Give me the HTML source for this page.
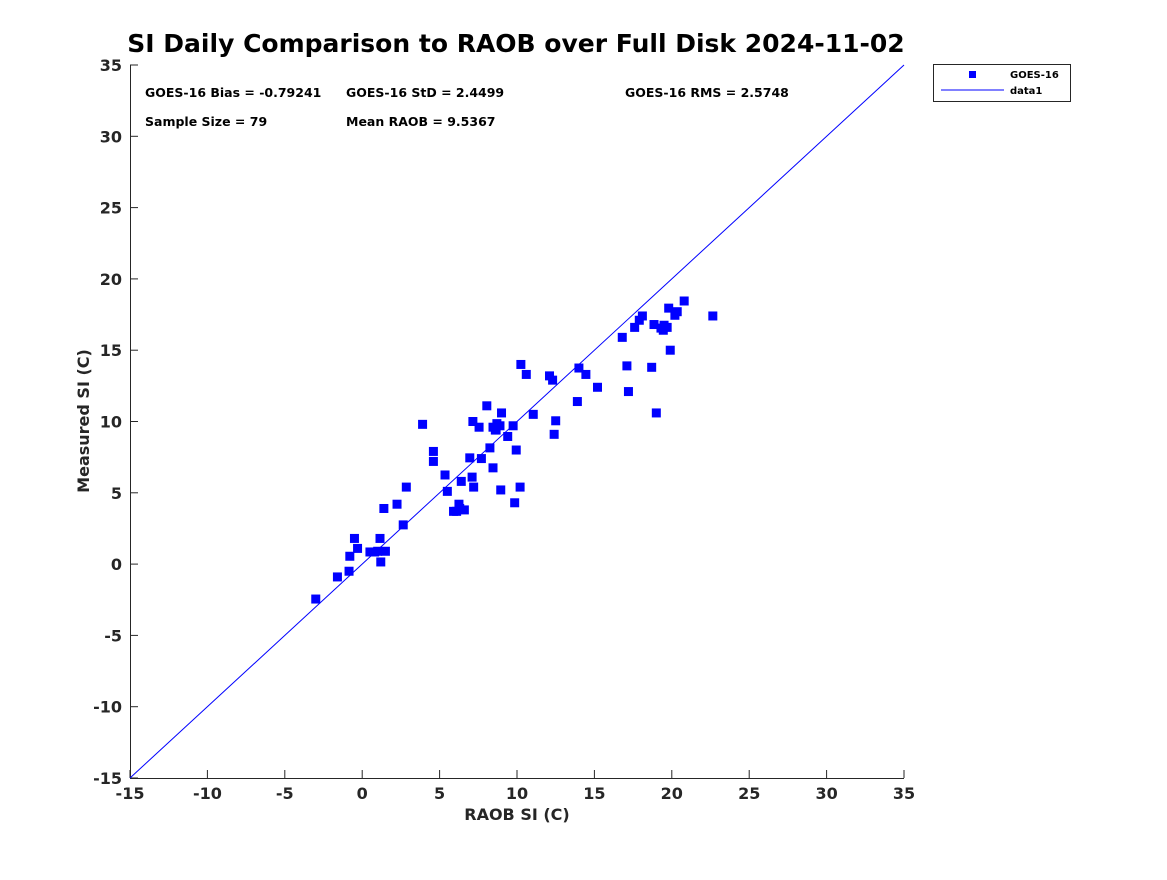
<!DOCTYPE html>
<html><head><meta charset="utf-8"><style>
body{margin:0;background:#fff;}
svg text{font-family:"DejaVu Sans","Liberation Sans",sans-serif;font-weight:bold;fill:#262626;}
</style></head><body>
<svg id="chart" width="1167" height="875" xmlns="http://www.w3.org/2000/svg">
<rect width="1167" height="875" fill="#fff"/>
<text x="516" y="52" text-anchor="middle" style="font-size:25px;fill:#000">SI Daily Comparison to RAOB over Full Disk 2024-11-02</text>
<g id="axes"></g>
<g id="marks"></g>
<text x="145" y="97" style="font-size:12.5px;fill:#000">GOES-16 Bias = -0.79241</text>
<text x="346" y="97" style="font-size:12.5px;fill:#000">GOES-16 StD = 2.4499</text>
<text x="625" y="97" style="font-size:12.5px;fill:#000">GOES-16 RMS = 2.5748</text>
<text x="145" y="126" style="font-size:12.5px;fill:#000">Sample Size = 79</text>
<text x="346" y="126" style="font-size:12.5px;fill:#000">Mean RAOB = 9.5367</text>
<text x="517" y="820" text-anchor="middle" style="font-size:16px">RAOB SI (C)</text>
<text transform="translate(89,421) rotate(-90)" text-anchor="middle" style="font-size:16px">Measured SI (C)</text>
<g>
<rect x="933.5" y="64.5" width="137" height="37" fill="#fff" stroke="#262626" stroke-width="1"/>
<rect x="969" y="71" width="7" height="7" fill="#0000ff"/>
<text x="1010" y="78" style="font-size:10px;fill:#000">GOES-16</text>
<line x1="941" y1="90" x2="1004" y2="90" stroke="#0000ff" stroke-width="1"/>
<text x="1010" y="94" style="font-size:10px;fill:#000">data1</text>
</g>
</svg>
<script>
const xTicks=[-15,-10,-5,0,5,10,15,20,25,30,35];
const yTicks=[-15,-10,-5,0,5,10,15,20,25,30,35];
const raobSI=[-3.0,-1.6,-0.85,-0.8,-0.5,-0.3,0.5,0.8,1.15,1.2,1.5,1.4,2.25,2.65,2.85,3.9,4.6,4.6,5.35,5.5,5.9,6.25,6.1,6.6,6.4,6.95,7.15,7.1,7.2,7.55,7.7,8.05,8.25,8.45,8.45,8.7,8.65,8.9,9.0,8.95,9.4,9.75,9.85,9.95,10.2,10.25,10.6,11.05,12.1,12.3,12.4,12.5,14.0,13.9,14.45,15.2,16.8,17.1,17.2,17.6,17.9,18.1,18.7,18.85,19.0,19.3,19.5,19.7,19.45,19.8,19.9,20.2,20.35,20.8,22.65,1.0,6.3,8.6];
const measuredSI=[-2.45,-0.9,-0.5,0.55,1.8,1.1,0.85,0.85,1.8,0.15,0.9,3.9,4.2,2.75,5.4,9.8,7.9,7.2,6.25,5.1,3.7,4.2,3.7,3.8,5.8,7.45,10.0,6.1,5.4,9.6,7.4,11.1,8.15,9.6,6.75,9.85,9.4,9.7,10.6,5.2,8.95,9.7,4.3,8.0,5.4,14.0,13.3,10.5,13.2,12.9,9.1,10.05,13.75,11.4,13.3,12.4,15.9,13.9,12.1,16.6,17.1,17.4,13.8,16.8,10.6,16.55,16.75,16.6,16.4,17.95,15.0,17.45,17.7,18.45,17.4,0.9,3.9,9.4];
const X0=130,X1=904,Y0=778,Y1=65;
const sx=v=>X0+(v-(-15))/50*(X1-X0);
const sy=v=>Y0-(v-(-15))/50*(Y0-Y1);
const NS="http://www.w3.org/2000/svg";
const ax=document.getElementById('axes'),mk=document.getElementById('marks');
function mkEl(t,a,p){const e=document.createElementNS(NS,t);for(const k in a)e.setAttribute(k,a[k]);p.appendChild(e);return e;}
let l=mkEl('line',{x1:X0,y1:Y0+0.5,x2:X1,y2:Y0+0.5,stroke:'#262626'},ax);


l=mkEl('line',{x1:X0+0.5,y1:Y1,x2:X0+0.5,y2:Y0,stroke:'#262626'},ax);


xTicks.forEach(v=>{
 mkEl('line',{x1:sx(v),y1:Y0,x2:sx(v),y2:Y0-8,stroke:'#262626'},ax);
 const t=mkEl('text',{x:sx(v),y:Y0+21,'text-anchor':'middle',style:'font-size:16px'},ax);
 t.textContent=v;
 
 
});
yTicks.forEach(v=>{
 mkEl('line',{x1:X0,y1:sy(v),x2:X0+8,y2:sy(v),stroke:'#262626'},ax);
 const t=mkEl('text',{x:X0-8,y:sy(v)+6,'text-anchor':'end',style:'font-size:16px'},ax);
 t.textContent=v;
 
 
});
const ref=mkEl('line',{x1:sx(-15),y1:sy(-15),x2:sx(35),y2:sy(35),stroke:'#0000ff','stroke-width':1},mk);


raobSI.forEach((v,i)=>{
 const r=mkEl('rect',{x:sx(v)-4.5,y:sy(measuredSI[i])-4.5,width:9,height:9,fill:'#0000ff'},mk);
 
 
});
</script>
</body></html>
